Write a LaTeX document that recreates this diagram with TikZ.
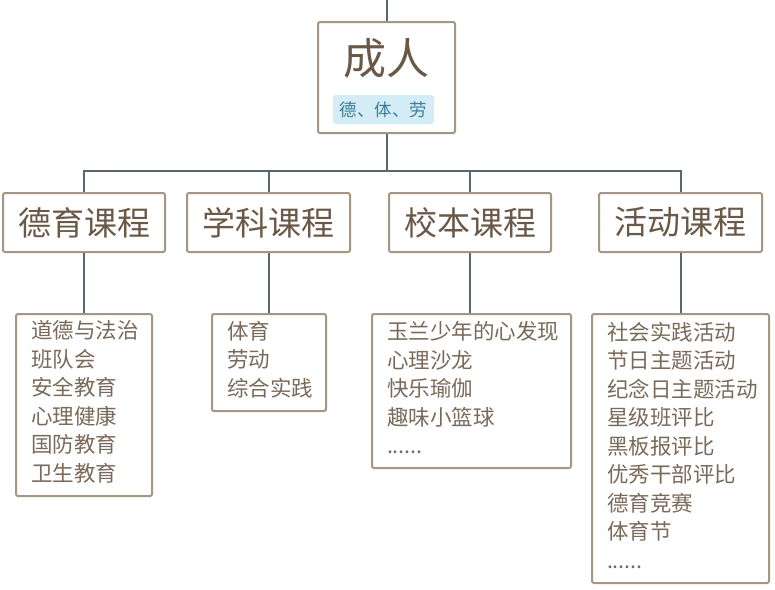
\documentclass[tikz,border=0pt]{standalone}
\usepackage{fontspec}
\setmainfont{Noto Sans CJK SC}
\definecolor{bordc}{HTML}{A69785}
\definecolor{titc}{HTML}{6B5948}
\definecolor{leafc}{HTML}{7A6A5A}
\definecolor{linec}{HTML}{5B6770}
\definecolor{tagfill}{HTML}{D4ECF5}
\definecolor{tagtext}{HTML}{3D7F99}
\tikzset{
  box/.style={draw=bordc, line width=2pt, rounded corners=2pt, fill=white, inner sep=0pt},
  lvtwo/.style={box, minimum height=59pt, text=titc, font=\fontsize{33}{33}\selectfont},
  leafbox/.style={box, anchor=north, align=left, inner xsep=15pt, inner ysep=0pt, text=leafc, font=\fontsize{21.5}{28.5}\selectfont},
  conn/.style={draw=linec, line width=2pt},
}
\begin{document}
\begin{tikzpicture}[x=1pt,y=-1pt]
\useasboundingbox[fill=white] (0,0) rectangle (775,589);
% root
\node[box, minimum width=137pt, minimum height=111pt] (root) at (386.5,77.5) {};
\node[text=titc, font=\fontsize{43}{43}\selectfont, inner sep=0pt] (roottxt) at (386.5,58) {成人};
\node[fill=tagfill, rounded corners=3pt, minimum width=101pt, minimum height=29pt, inner sep=0pt, text=tagtext, font=\fontsize{17.5}{17.5}\selectfont] (tag) at (383.5,109.5) {德、体、劳};
\coordinate (top) at (386.5,0);
% level 2
\node[lvtwo, minimum width=162pt] (a) at (84,222.5) {德育课程};
\node[lvtwo, minimum width=163pt] (b) at (268.5,222.5) {学科课程};
\node[lvtwo, minimum width=162pt] (c) at (470,222.5) {校本课程};
\node[lvtwo, minimum width=163pt] (d) at (680.5,222.5) {活动课程};
% leaves
\node[leafbox, minimum height=182pt, text width=106pt] (la) at (84,313) {道德与法治\\班队会\\安全教育\\心理健康\\国防教育\\卫生教育\par\vspace*{6pt}};
\node[leafbox, minimum height=97pt, text width=84pt] (lb) at (269,313) {体育\\劳动\\综合实践\par\vspace*{6pt}};
\node[leafbox, minimum height=154pt, text width=169pt] (lc) at (471.5,313) {玉兰少年的心发现\\心理沙龙\\快乐瑜伽\\趣味小篮球\\......\par\vspace*{6pt}};
\node[leafbox, minimum height=269pt, text width=147pt] (ld) at (680.5,313) {社会实践活动\\节日主题活动\\纪念日主题活动\\星级班评比\\黑板报评比\\优秀干部评比\\德育竞赛\\体育节\\......\par\vspace*{6pt}};
% connectors
\draw[conn] (top) -- (root.north);
\coordinate (bar) at (386.5,171);
\draw[conn] (root.south) -- (bar);
\draw[conn] (bar) -| (a.north);
\draw[conn] (bar) -| (b.north);
\draw[conn] (bar) -| (c.north);
\draw[conn] (bar) -| (d.north);
\draw[conn] (a.south) -- (a.south |- la.north);
\draw[conn] (b.south) -- (b.south |- lb.north);
\draw[conn] (c.south) -- (c.south |- lc.north);
\draw[conn] (d.south) -- (d.south |- ld.north);
\end{tikzpicture}
\end{document}
